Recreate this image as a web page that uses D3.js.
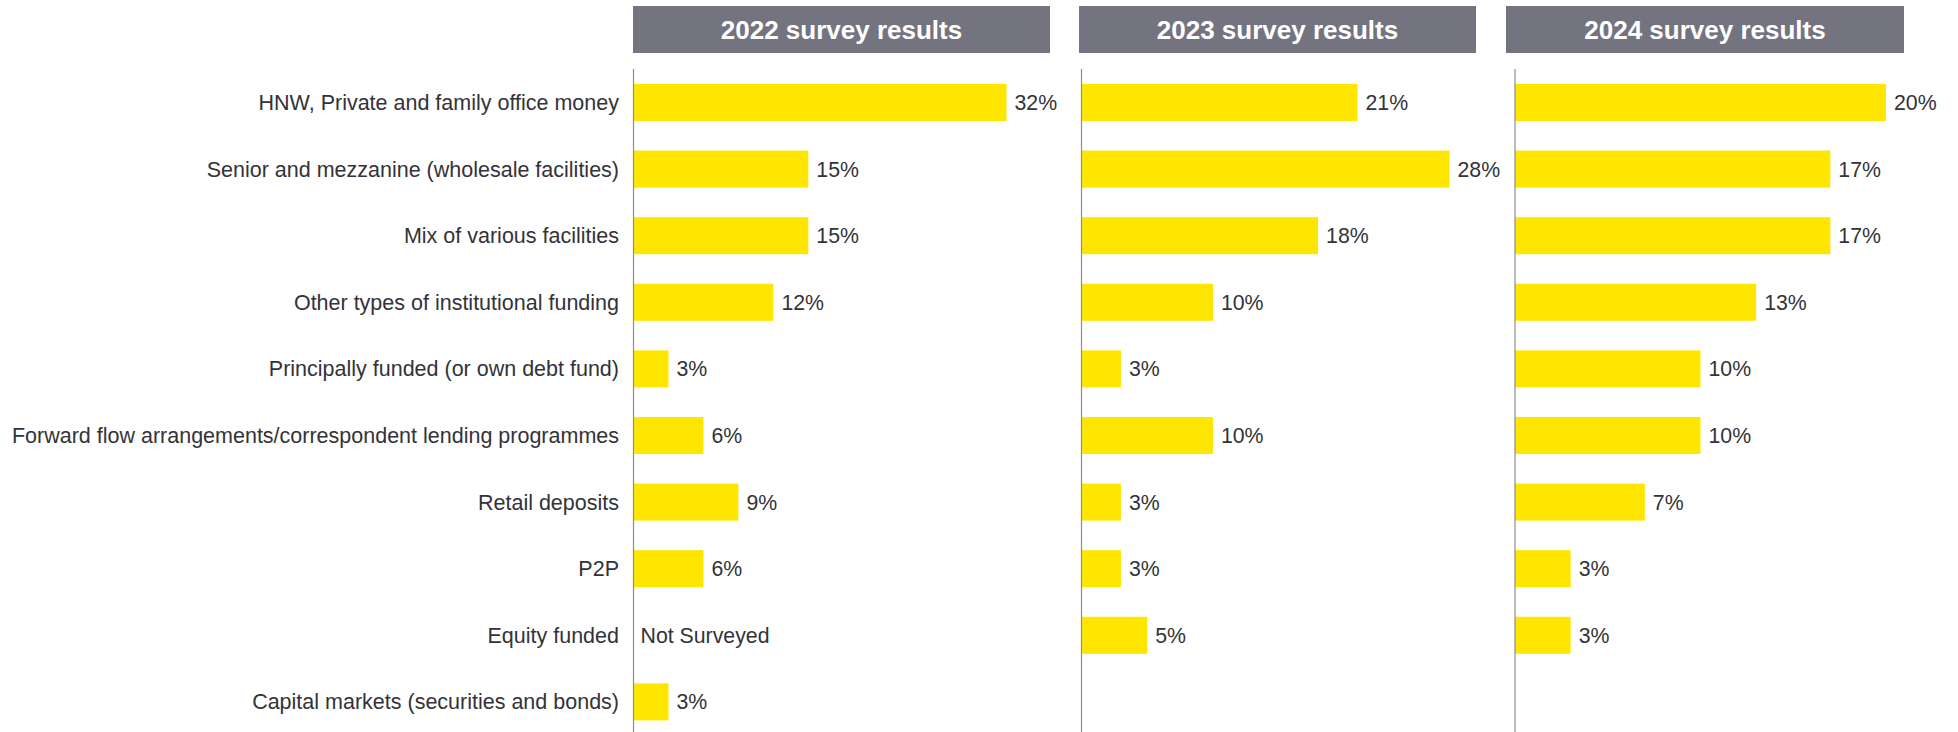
<!DOCTYPE html>
<html>
<head>
<meta charset="utf-8">
<script src="https://cdn.jsdelivr.net/npm/d3@7"></script>
<style>
  html, body { margin: 0; padding: 0; background: #fff; }
  svg { display: block; font-family: "Liberation Sans", Arial, sans-serif; }
</style>
</head>
<body>
<svg id="chart" width="1958" height="732"></svg>
<script>
// Funding sources, top to bottom
const categories = [
  "HNW, Private and family office money",
  "Senior and mezzanine (wholesale facilities)",
  "Mix of various facilities",
  "Other types of institutional funding",
  "Principally funded (or own debt fund)",
  "Forward flow arrangements/correspondent lending programmes",
  "Retail deposits",
  "P2P",
  "Equity funded",
  "Capital markets (securities and bonds)"
];

const years = ["2022", "2023", "2024"];

// Share of respondents (%); null = no bar
const values2022 = [32, 15, 15, 12, 3, 6, 9, 6, null, 3];
const values2023 = [21, 28, 18, 10, 3, 10, 3, 3, 5, null];
const values2024 = [20, 17, 17, 13, 10, 10, 7, 3, 3, null];

// Text shown in place of a missing bar
const notes2022 = [null, null, null, null, null, null, null, null, "Not Surveyed", null];
const notes2023 = categories.map(() => null);
const notes2024 = categories.map(() => null);

const series = [
  { year: years[0], values: values2022, notes: notes2022 },
  { year: years[1], values: values2023, notes: notes2023 },
  { year: years[2], values: values2024, notes: notes2024 }
];

// Layout of the three panels: axis x, header box extents, length of the longest bar
const panels = [
  { axisX: 633.5, headL: 633, headR: 1050, span: 373 },
  { axisX: 1081.5, headL: 1079, headR: 1476, span: 368 },
  { axisX: 1515, headL: 1506, headR: 1904, span: 371 }
];

const svg = d3.select("#chart");
const W = 1958, H = 732;
const textColor = "#333338";

const y = d3.scaleBand()
  .domain(categories)
  .range([69.2, 735.2])
  .paddingInner(0.444)
  .paddingOuter(0.222);

// Category labels
svg.append("g")
  .selectAll("text")
  .data(categories)
  .join("text")
  .attr("x", 619)
  .attr("y", d => y(d) + y.bandwidth() / 2)
  .attr("dy", "0.35em")
  .attr("text-anchor", "end")
  .attr("font-size", 21.5)
  .attr("fill", textColor)
  .text(d => d);

series.forEach((s, i) => {
  const p = panels[i];
  const g = svg.append("g");
  const maxV = d3.max(s.values);
  const x = d3.scaleLinear().domain([0, maxV]).range([p.axisX, p.axisX + p.span]);

  // Header box
  g.append("rect")
    .attr("x", p.headL)
    .attr("y", 6)
    .attr("width", p.headR - p.headL)
    .attr("height", 47)
    .attr("fill", "#747480");
  g.append("text")
    .attr("x", (p.headL + p.headR) / 2)
    .attr("y", 30)
    .attr("dy", "0.35em")
    .attr("text-anchor", "middle")
    .attr("font-size", 26)
    .attr("font-weight", "bold")
    .attr("fill", "#ffffff")
    .text(s.year + " survey results");

  const rows = categories.map((c, k) => ({ cat: c, v: s.values[k], note: s.notes[k] }));

  // Bars
  g.selectAll("rect.bar")
    .data(rows.filter(r => r.v != null))
    .join("rect")
    .attr("class", "bar")
    .attr("x", x(0))
    .attr("y", r => y(r.cat))
    .attr("width", r => x(r.v) - x(0))
    .attr("height", y.bandwidth())
    .attr("fill", "#ffe600");

  // Value labels
  g.selectAll("text.val")
    .data(rows.filter(r => r.v != null))
    .join("text")
    .attr("class", "val")
    .attr("x", r => x(r.v) + 8)
    .attr("y", r => y(r.cat) + y.bandwidth() / 2)
    .attr("dy", "0.35em")
    .attr("font-size", 21.3)
    .attr("fill", textColor)
    .text(r => r.v + "%");

  // Notes for missing values
  g.selectAll("text.note")
    .data(rows.filter(r => r.v == null && r.note))
    .join("text")
    .attr("class", "note")
    .attr("x", x(0) + 7)
    .attr("y", r => y(r.cat) + y.bandwidth() / 2)
    .attr("dy", "0.35em")
    .attr("font-size", 21.3)
    .attr("fill", textColor)
    .text(r => r.note);

  // Vertical axis line
  g.append("line")
    .attr("x1", p.axisX).attr("x2", p.axisX)
    .attr("y1", 69).attr("y2", H)
    .attr("stroke", "#8c8c94")
    .attr("stroke-width", 1.2);
});
</script>
</body>
</html>
